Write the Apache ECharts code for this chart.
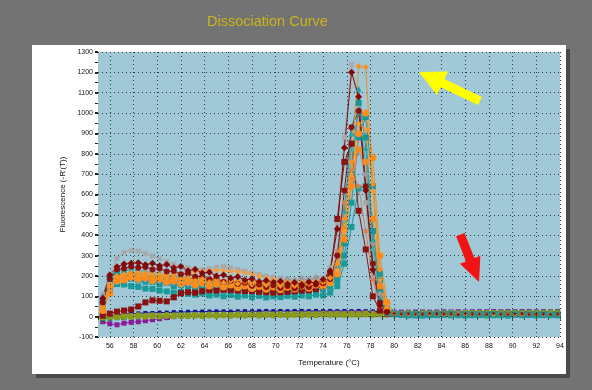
<!DOCTYPE html>
<html>
<head>
<meta charset="utf-8">
<script src="https://cdn.jsdelivr.net/npm/echarts@6/dist/echarts.min.js"></script>
<style>
  html, body { margin: 0; padding: 0; background: #737373; }
  #chart { width: 592px; height: 390px; }
</style>
</head>
<body>
<div id="chart"></div>
<script>
// 温度 (°C)
const temps = [
  55.4, 56.0, 56.6, 57.2, 57.8, 58.4, 59.0, 59.6, 60.2, 60.8,
  61.4, 62.0, 62.6, 63.2, 63.8, 64.4, 65.0, 65.6, 66.2, 66.8,
  67.4, 68.0, 68.6, 69.2, 69.8, 70.4, 71.0, 71.6, 72.2, 72.8,
  73.4, 74.0, 74.6, 75.2, 75.8, 76.4, 77.0, 77.6, 78.2, 78.8,
  79.4, 80.0, 80.6, 81.2, 81.8, 82.4, 83.0, 83.6, 84.2, 84.8,
  85.4, 86.0, 86.6, 87.2, 87.8, 88.4, 89.0, 89.6, 90.2, 90.8,
  91.4, 92.0, 92.6, 93.2, 93.8
]
const gridTemps = [56, 58, 60, 62, 64, 66, 68, 70, 72, 74, 76, 78, 80, 82, 84, 86, 88, 90, 92, 94]

// negative wells
const navyVals = [
  -15, 0, 8, 12, 14, 16, 18, 18, 20, 20,
  22, 22, 24, 24, 25, 25, 26, 26, 25, 26,
  27, 26, 27, 28, 27, 28, 27, 28, 28, 27,
  28, 27, 28, 27, 28, 27, 28, 27, 26, 25,
  22, 21, 22, 20, 21, 22, 20, 21, 22, 20,
  21, 22, 20, 21, 20, 22, 21, 20, 21, 22,
  20, 21, 22, 20, 21
]
const purpleVals = [
  -25, -35, -40, -32, -28, -25, -20, -15, -10, -5,
  0, 3, 5, 6, 8, 8, 9, 10, 10, 11,
  12, 12, 13, 13, 14, 14, 15, 15, 16, 16,
  17, 17, 18, 18, 19, 19, 20, 20, 20, 21,
  21, 22, 22, 22, 23, 23, 22, 23, 24, 23,
  24, 23, 24, 25, 24, 25, 24, 25, 24, 25,
  25, 24, 25, 24, 25
]
const greenVals = [
  -10, -8, -5, -3, 0, 2, 3, 5, 5, 6,
  6, 7, 7, 8, 8, 8, 9, 9, 9, 10,
  10, 10, 11, 11, 11, 12, 12, 12, 12, 13,
  13, 13, 14, 14, 14, 15, 15, 15, 16, 16,
  16, 17, 17, 17, 18, 18, 18, 18, 19, 19,
  19, 19, 20, 20, 20, 20, 20, 21, 21, 21,
  21, 21, 22, 22, 22
]
const oliveVals = [
  0, 2, 0, 3, 1, 4, 2, 5, 3, 6,
  4, 6, 5, 7, 5, 8, 6, 8, 6, 9,
  7, 9, 7, 10, 8, 10, 8, 11, 9, 11,
  9, 12, 10, 12, 10, 12, 11, 13, 11, 13,
  12, 13, 12, 14, 12, 14, 13, 14, 13, 15,
  13, 15, 14, 15, 14, 16, 14, 16, 15, 16,
  15, 16, 15, 17, 16
]

// positive wells
const grayXVals = [
  110, 210, 285, 315, 325, 322, 310, 298, 285, 270,
  258, 248, 240, 236, 232, 236, 242, 246, 240, 232,
  224, 216, 208, 200, 194, 188, 184, 180, 178, 180,
  184, 192, 240, 460, 880, 1240, 1040, 560, 190, 40,
  18, 14, 10, 12, 15, 11, 13, 10, 12, 14,
  11, 13, 10, 12, 11, 14, 10, 12, 13, 11,
  12, 10, 13, 11, 12
]
const grayDiaVals = [
  70, 160, 185, 182, 188, 178, 182, 172, 176, 165,
  168, 158, 162, 154, 160, 150, 158, 152, 162, 156,
  168, 162, 172, 166, 178, 170, 182, 174, 188, 180,
  192, 178, 185, 220, 380, 640, 820, 700, 360, 110,
  20, 12, 10, 13, 11, 12, 10, 14, 11, 13,
  12, 10, 11, 13, 12, 10, 14, 11, 12, 10,
  13, 11, 12, 10, 11
]
const redSqVals = [
  5, 15, 25, 30, 35, 50, 70, 80, 78, 75,
  95, 115, 120, 118, 125, 130, 128, 132, 130, 128,
  126, 125, 122, 120, 118, 120, 122, 125, 128, 130,
  135, 150, 210, 480, 760, 850, 520, 330, 100, 30,
  15, 12, 10, 13, 11, 14, 12, 10, 12, 13,
  11, 14, 10, 12, 13, 11, 12, 14, 10, 12,
  13, 11, 12, 10, 12
]
const salmonVals = [
  40, 140, 190, 192, 200, 190, 194, 182, 186, 172,
  176, 164, 170, 158, 164, 152, 158, 146, 154, 142,
  150, 140, 148, 136, 146, 134, 142, 132, 146, 138,
  150, 146, 170, 320, 560, 720, 640, 420, 180, 50,
  15, 10, 12, 8, 11, 9, 12, 10, 8, 11,
  9, 12, 10, 8, 11, 9, 10, 12, 8, 10,
  11, 9, 10, 8, 10
]
const lightTealVals = [
  60, 170, 200, 206, 204, 200, 195, 192, 188, 184,
  180, 178, 174, 172, 168, 166, 163, 160, 158, 156,
  154, 152, 150, 149, 148, 147, 146, 147, 148, 150,
  152, 156, 170, 230, 470, 820, 1000, 760, 330, 80,
  18, 12, 10, 9, 11, 10, 12, 9, 10, 11,
  9, 10, 12, 9, 11, 10, 9, 11, 10, 12,
  9, 10, 11, 9, 10
]
const redCircVals = [
  70, 185, 232, 236, 246, 240, 244, 232, 236, 222,
  224, 208, 212, 196, 198, 182, 186, 170, 176, 160,
  166, 152, 158, 146, 154, 142, 150, 140, 152, 146,
  158, 164, 185, 300, 620, 930, 1010, 640, 260, 70,
  25, 18, 14, 12, 15, 11, 13, 16, 12, 14,
  10, 13, 15, 11, 12, 14, 10, 13, 12, 15,
  11, 12, 14, 10, 13
]
const orangeSqVals = [
  45, 150, 190, 196, 200, 194, 198, 190, 186, 192,
  184, 180, 186, 178, 176, 182, 174, 170, 176, 168,
  166, 172, 164, 160, 166, 158, 162, 156, 160, 164,
  166, 170, 182, 240, 430, 680, 820, 760, 480, 150,
  30, 14, 10, 12, 9, 11, 13, 10, 12, 9,
  11, 13, 10, 12, 9, 11, 10, 12, 9, 11,
  10, 12, 9, 11, 10
]
const orangeStarVals = [
  60, 160, 200, 210, 215, 218, 216, 212, 208, 205,
  208, 212, 216, 220, 224, 226, 228, 226, 224, 220,
  216, 210, 200, 190, 182, 176, 170, 165, 160, 158,
  156, 158, 170, 230, 420, 700, 950, 920, 620, 180,
  35, 15, 12, 10, 11, 13, 10, 12, 11, 9,
  12, 10, 11, 13, 10, 12, 9, 11, 10, 12,
  11, 10, 12, 11, 10
]
const orangeCircVals = [
  30, 115, 175, 180, 194, 186, 192, 178, 186, 170,
  178, 162, 172, 156, 166, 150, 160, 146, 156, 142,
  150, 138, 148, 134, 146, 132, 144, 136, 150, 140,
  156, 150, 165, 210, 380, 640, 900, 1000, 780, 300,
  70, 20, 14, 12, 10, 13, 11, 12, 9, 11,
  13, 10, 12, 11, 9, 12, 10, 13, 11, 10,
  12, 9, 11, 10, 12
]
const orangeDiaVals = [
  40, 150, 200, 202, 214, 206, 212, 198, 204, 190,
  196, 182, 190, 176, 186, 170, 180, 166, 176, 162,
  172, 158, 168, 156, 166, 152, 164, 150, 166, 160,
  172, 168, 190, 260, 480, 760, 1230, 1225, 650, 230,
  45, 18, 12, 10, 14, 11, 13, 9, 12, 10,
  14, 11, 12, 10, 13, 9, 11, 14, 10, 12,
  10, 13, 11, 12, 10
]
const redDiaVals = [
  90, 205, 245, 258, 262, 265, 255, 262, 250, 256,
  240, 246, 226, 232, 214, 218, 200, 205, 190, 196,
  180, 186, 172, 178, 168, 174, 160, 168, 158, 170,
  165, 182, 225, 430, 830, 1200, 1080, 620, 230, 55,
  22, 15, 12, 14, 10, 12, 15, 11, 13, 10,
  12, 14, 10, 13, 11, 15, 12, 10, 14, 12,
  11, 13, 10, 12, 11
]
const tealTriVals = [
  100, 200, 230, 226, 232, 222, 226, 212, 216, 200,
  206, 190, 196, 180, 188, 172, 180, 166, 174, 160,
  170, 156, 166, 152, 162, 148, 160, 146, 158, 150,
  164, 158, 175, 250, 520, 900, 1120, 830, 380, 90,
  18, 12, 14, 10, 13, 11, 15, 12, 10, 13,
  11, 14, 12, 10, 13, 12, 11, 14, 10, 12,
  13, 11, 10, 12, 11
]
const tealSq3Vals = [
  70, 190, 212, 208, 200, 196, 188, 190, 180, 184,
  176, 170, 174, 166, 162, 168, 158, 160, 154, 158,
  150, 154, 146, 150, 144, 148, 142, 146, 140, 144,
  148, 150, 158, 180, 300, 560, 880, 980, 640, 210,
  40, 16, 10, 8, 12, 9, 11, 8, 10, 12,
  9, 11, 8, 10, 9, 12, 8, 10, 11, 9,
  10, 8, 11, 9, 10
]
const tealSqVals = [
  80, 175, 195, 190, 186, 178, 172, 170, 160, 165,
  150, 156, 148, 140, 146, 136, 140, 132, 138, 128,
  134, 126, 130, 124, 128, 120, 126, 122, 128, 124,
  130, 136, 148, 190, 360, 700, 1050, 880, 420, 130,
  25, 12, 8, 10, 6, 9, 7, 11, 8, 10,
  7, 9, 11, 8, 10, 7, 9, 8, 10, 9,
  8, 10, 7, 9, 8
]
const tealSq2Vals = [
  50, 135, 160, 158, 150, 146, 138, 136, 128, 124,
  118, 122, 112, 108, 114, 104, 108, 100, 106, 98,
  104, 96, 102, 94, 100, 96, 102, 98, 104, 100,
  108, 104, 118, 150, 260, 440, 630, 640, 420, 175,
  35, 14, 8, 6, 9, 5, 8, 7, 9, 6,
  8, 5, 7, 9, 6, 8, 7, 5, 8, 7,
  9, 6, 8, 7, 6
]

const xMark = "path://M3,0 L5,2 L7,0 L10,3 L8,5 L10,7 L7,10 L5,8 L3,10 L0,7 L2,5 L0,3 Z"
const starMark = "path://M5,0 L6.2,3.5 L10,3.8 L7,6 L8.1,10 L5,7.7 L1.9,10 L3,6 L0,3.8 L3.8,3.5 Z"

// 曲线: [数据, 颜色, 标记, 标记大小, 尾部是否缩小标记]  (后画的在上层)
const curves = [
  [navyVals, "#10108a", "rect", 4, false],
  [purpleVals, "#8a1a9a", "rect", 5, false],
  [greenVals, "#2a8a2a", "rect", 5, false],
  [oliveVals, "#8c9a1c", "circle", 7, false],
  [grayXVals, "#a8a8a8", xMark, 6, true],
  [tealSq2Vals, "#189a9a", "rect", 6, false],
  [lightTealVals, "#3cb0b4", "circle", 4, false],
  [tealSqVals, "#1a9494", "rect", 6, false],
  [tealSq3Vals, "#1c9898", "rect", 6, false],
  [redSqVals, "#8b1010", "rect", 6, true],
  [grayDiaVals, "#9a9a9a", "diamond", 7, true],
  [salmonVals, "#d98050", xMark, 5, true],
  [orangeSqVals, "#f58a20", "rect", 6, true],
  [tealTriVals, "#28a0a8", "triangle", 6, true],
  [orangeCircVals, "#ff8c1a", "circle", 7, true],
  [orangeStarVals, "#ff9a30", starMark, 7, true],
  [redCircVals, "#8b1010", "circle", 6, true],
  [orangeDiaVals, "#f7901e", "diamond", 6, true],
  [redDiaVals, "#850808", "diamond", 7, true]
]

const series = curves.map(function (c) {
  const size = c[3]
  const shrinkTail = c[4]
  return {
    type: "line",
    data: temps.map(function (t, i) { return [t, c[0][i]] }),
    symbol: c[2],
    symbolSize: function (v) { return shrinkTail && v[0] > 79.6 ? 3 : size },
    showSymbol: true,
    lineStyle: { width: 1, color: c[1] },
    itemStyle: { color: c[1] }
  }
})

// 竖直网格线
series.unshift({
  type: "line",
  data: [],
  silent: true,
  markLine: {
    silent: true,
    symbol: "none",
    label: { show: false },
    lineStyle: { color: "#2a3a44", width: 1, type: [1, 3] },
    data: gridTemps.map(function (t) { return { xAxis: t } })
  }
})

const chart = echarts.init(document.getElementById("chart"))
chart.setOption({
  animation: false,
  backgroundColor: "#737373",
  textStyle: { fontFamily: "Liberation Sans" },
  graphic: [
    { type: "rect", shape: { x: 36, y: 49, width: 534, height: 329 }, style: { fill: "#4a4a4a" }, z: -10 },
    { type: "rect", shape: { x: 32, y: 45, width: 534, height: 329 }, style: { fill: "#ffffff" }, z: -9 },
    {
      type: "text", left: 207, top: 14, z: 10,
      style: { text: "Dissociation Curve", fill: "#cbb51a", font: "14.5px 'Liberation Sans'" }
    },
    {
      type: "polygon", z: 100,
      shape: { points: [[419, 72], [448, 71.4], [444.5, 79.1], [481.9, 96.9], [478.1, 105.1], [440.7, 87.3], [437, 95]] },
      style: { fill: "#ffff00" }
    },
    {
      type: "polygon", z: 100,
      shape: { points: [[479, 282], [480.4, 255.7], [474.4, 258], [464.5, 232.9], [456.1, 236.3], [466, 261.4], [460, 263.7]] },
      style: { fill: "#f01414" }
    }
  ],
  grid: {
    left: 98, right: 32, top: 52, bottom: 53,
    show: true, backgroundColor: "#a0c8d7", borderWidth: 0
  },
  xAxis: {
    type: "value",
    min: 55,
    max: 94,
    interval: 1,
    name: "Temperature (°C)",
    nameLocation: "middle",
    nameGap: 22,
    nameTextStyle: { fontSize: 8, color: "#111" },
    axisLine: { show: true, lineStyle: { color: "#333", width: 1 } },
    axisTick: { show: true, length: 3, lineStyle: { color: "#222" } },
    axisLabel: {
      fontSize: 7, color: "#111", margin: 6,
      formatter: function (v) { return v % 2 === 0 ? String(v) : "" }
    },
    splitLine: { show: false }
  },
  yAxis: {
    type: "value",
    min: -100,
    max: 1300,
    interval: 100,
    name: "Fluorescence (-R'(T))",
    nameLocation: "middle",
    nameGap: 25,
    nameRotate: 90,
    nameTextStyle: { fontSize: 8, color: "#111" },
    axisLine: { show: false },
    axisTick: { show: true, length: 3, lineStyle: { color: "#222", width: 2 } },
    minorTick: { show: true, splitNumber: 2, length: 3, lineStyle: { color: "#222" } },
    axisLabel: {
      fontSize: 7, color: "#111", margin: 5,
      formatter: function (v) { return String(v) }
    },
    splitLine: { show: true, lineStyle: { color: "#2a3a44", width: 1, type: [1, 3] } }
  },
  series: series
})
</script>
</body>
</html>
